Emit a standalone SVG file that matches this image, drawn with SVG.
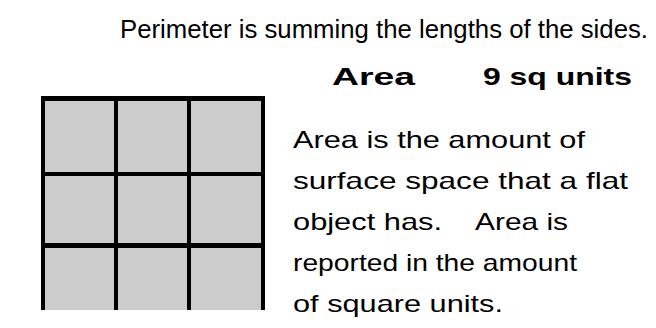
<svg xmlns="http://www.w3.org/2000/svg" width="656" height="328" viewBox="0 0 656 328">
<style>
.t{font-family:"Liberation Sans","DejaVu Sans",sans-serif;fill:#000}
.b{font-size:24px}
.h{font-size:24px;font-weight:bold}
.cell{fill:#cccccc}
</style>
<rect width="656" height="328" fill="#ffffff"/>
<text class="t" x="120" y="38" font-size="25" textLength="528" lengthAdjust="spacingAndGlyphs">Perimeter is summing the lengths of the sides.</text>
<g id="grid">
<rect x="41" y="96" width="224" height="214" fill="#000"/>
<rect class="cell" x="45" y="101" width="69" height="71"/>
<rect class="cell" x="118" y="101" width="69" height="71"/>
<rect class="cell" x="191" y="101" width="70" height="71"/>
<rect class="cell" x="45" y="176" width="69" height="67"/>
<rect class="cell" x="118" y="176" width="69" height="67"/>
<rect class="cell" x="191" y="176" width="70" height="67"/>
<rect class="cell" x="45" y="248" width="69" height="62"/>
<rect class="cell" x="118" y="248" width="69" height="62"/>
<rect class="cell" x="191" y="248" width="70" height="62"/>
</g>
<g id="heading">
<text class="t h" x="332" y="85" textLength="83" lengthAdjust="spacingAndGlyphs">Area</text>
<text class="t h" x="483" y="85" textLength="149" lengthAdjust="spacingAndGlyphs">9 sq units</text>
</g>
<g id="body">
<text class="t b" x="293" y="148" textLength="292" lengthAdjust="spacingAndGlyphs">Area is the amount of</text>
<text class="t b" x="293" y="189" textLength="335" lengthAdjust="spacingAndGlyphs">surface space that a flat</text>
<text class="t b" x="293" y="230" textLength="149" lengthAdjust="spacingAndGlyphs">object has.</text>
<text class="t b" x="475" y="230" textLength="93" lengthAdjust="spacingAndGlyphs">Area is</text>
<text class="t b" x="293" y="271" textLength="284" lengthAdjust="spacingAndGlyphs">reported in the amount</text>
<text class="t b" x="293" y="312" textLength="210" lengthAdjust="spacingAndGlyphs">of square units.</text>
</g>
</svg>
